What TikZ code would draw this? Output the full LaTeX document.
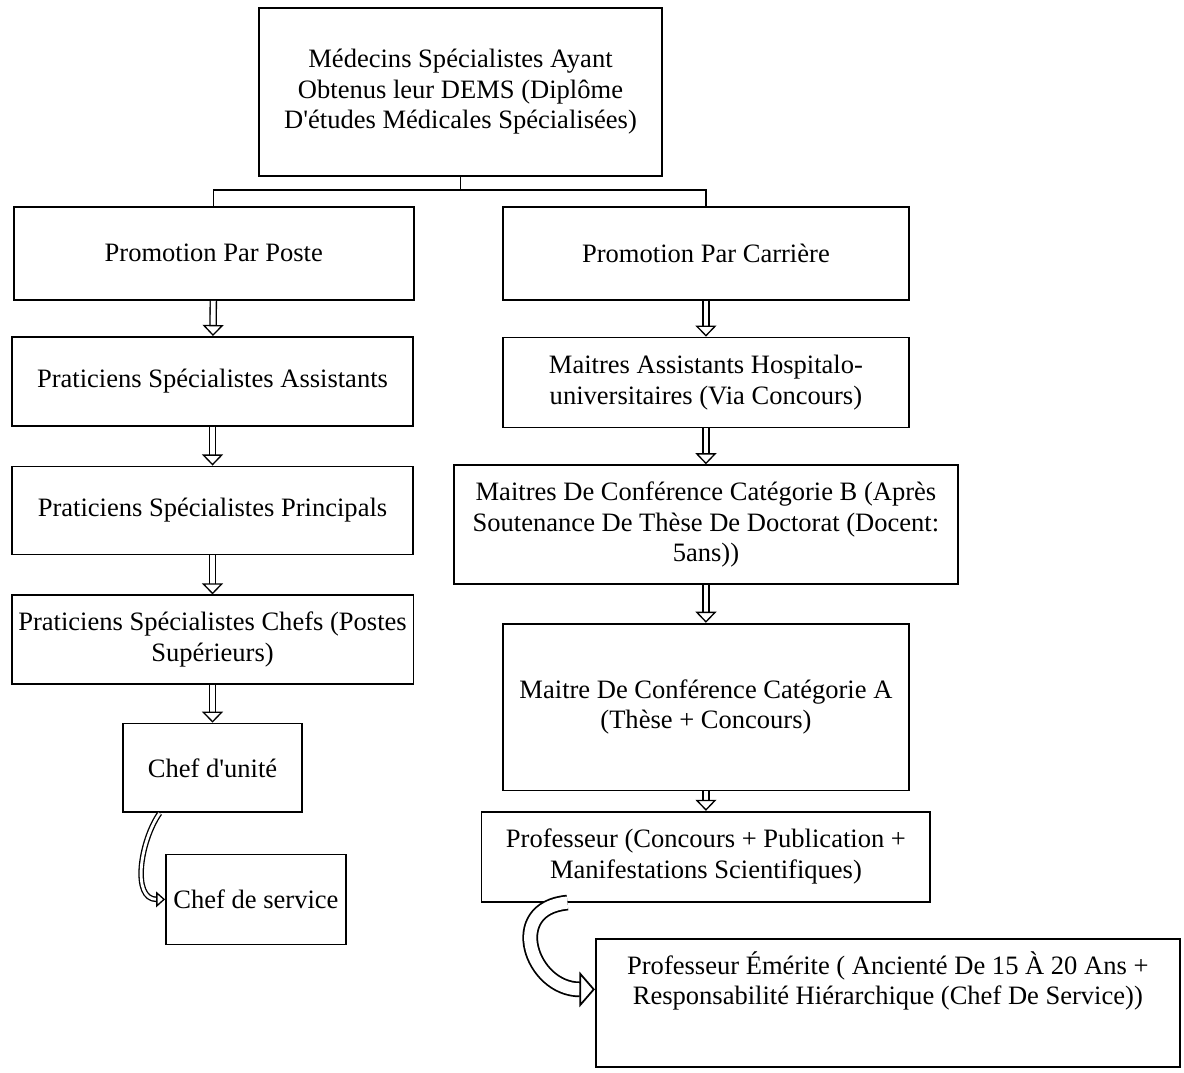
\documentclass[tikz,border=0pt]{standalone}
\usepackage{fontspec}
\setmainfont{Liberation Serif}
\usetikzlibrary{arrows.meta,positioning}

\begin{document}
\begin{tikzpicture}[
  node distance=0.57cm,
  box/.style={draw,line width=0.8pt,align=center,inner sep=3pt,
              font=\fontsize{12}{13.8}\selectfont},
  link/.style={draw,line width=0.6pt},
  dbl/.style={double,double distance=2.2pt,line width=0.6pt,
              -{Triangle[fill=white,length=5pt,width=9.5pt,line width=0.6pt]}},
  curvarr/.style={double,double distance=1.3pt,line width=0.6pt,
              -{Triangle[fill=white,length=4pt,width=7pt,line width=0.6pt]}},
  bigcurv/.style={double,double distance=5.5pt,line width=0.8pt,
              -{Triangle[fill=white,length=7pt,width=16pt,line width=0.8pt]}},
  ]
  \useasboundingbox (-7.317,1.462) rectangle (11.496,-15.572);

  \node[box,minimum width=6.40cm,minimum height=2.67cm] (dems) at (0,0)
    {Médecins Spécialistes Ayant\\Obtenus leur DEMS (Diplôme\\D\textquotesingle études Médicales Spécialisées)};

  \node[box,minimum width=6.36cm,minimum height=1.48cm,below=0.46cm of dems,xshift=-3.92cm] (poste)
    {Promotion Par Poste};
  \node[box,minimum width=6.45cm,minimum height=1.48cm,below=0.46cm of dems,xshift=3.90cm] (carriere)
    {Promotion Par Carrière};

  % left column
  \node[box,minimum width=6.37cm,minimum height=1.41cm,below=0.56cm of poste,xshift=-0.02cm] (assist)
    {Praticiens Spécialistes Assistants};
  \node[box,minimum width=6.37cm,minimum height=1.40cm,below=0.62cm of assist] (princ)
    {Praticiens Spécialistes Principals};
  \node[box,minimum width=6.37cm,minimum height=1.41cm,below=0.62cm of princ] (chefs)
    {Praticiens Spécialistes Chefs (Postes\\Supérieurs)};
  \node[box,minimum width=2.84cm,minimum height=1.41cm,below=0.60cm of chefs] (unite)
    {Chef d\textquotesingle unité};
  \node[box,minimum width=2.86cm,minimum height=1.43cm,below=0.64cm of unite,xshift=0.69cm] (service)
    {Chef de service};

  % right column
  \node[box,minimum width=6.45cm,minimum height=1.43cm,below=0.57cm of carriere] (mah)
    {Maitres Assistants Hospitalo-\\universitaires (Via Concours)};
  \node[box,minimum width=8.01cm,minimum height=1.89cm,below=0.57cm of mah] (mcb)
    {Maitres De Conférence Catégorie B (Après\\Soutenance De Thèse De Doctorat (Docent:\\5ans))};
  \node[box,minimum width=6.45cm,minimum height=2.65cm,below=0.60cm of mcb] (mca)
    {Maitre De Conférence Catégorie A\\(Thèse + Concours)};
  \node[box,minimum width=7.13cm,minimum height=1.43cm,below=0.31cm of mca] (prof)
    {Professeur (Concours + Publication +\\Manifestations Scientifiques)};
  \node[box,minimum width=9.28cm,minimum height=2.03cm,below=0.57cm of prof,xshift=2.89cm] (emerite)
    {Professeur Émérite ( Ancienté De 15 À 20 Ans +\\Responsabilité Hiérarchique (Chef De Service))\\[9pt]\mbox{}};

  \draw[link] (dems.south) -- ++(0,-0.21) -| (poste.north);
  \draw[link] (dems.south) -- ++(0,-0.21) -| (carriere.north);

  \draw[dbl] (poste) -- (assist);
  \draw[dbl] (assist) -- (princ);
  \draw[dbl] (princ) -- (chefs);
  \draw[dbl] (chefs) -- (unite);
  \draw[dbl] (carriere) -- (mah);
  \draw[dbl] (mah) -- (mcb);
  \draw[dbl] (mcb) -- (mca);
  \draw[dbl] (mca) -- (prof);

  \draw[curvarr] ([xshift=-0.84cm]unite.south) to[out=235,in=180] (service.west);
  \draw[bigcurv] ([xshift=-2.20cm]prof.south) to[out=185,in=180,looseness=1.8] ([yshift=0.22cm]emerite.west);
\end{tikzpicture}
\end{document}
